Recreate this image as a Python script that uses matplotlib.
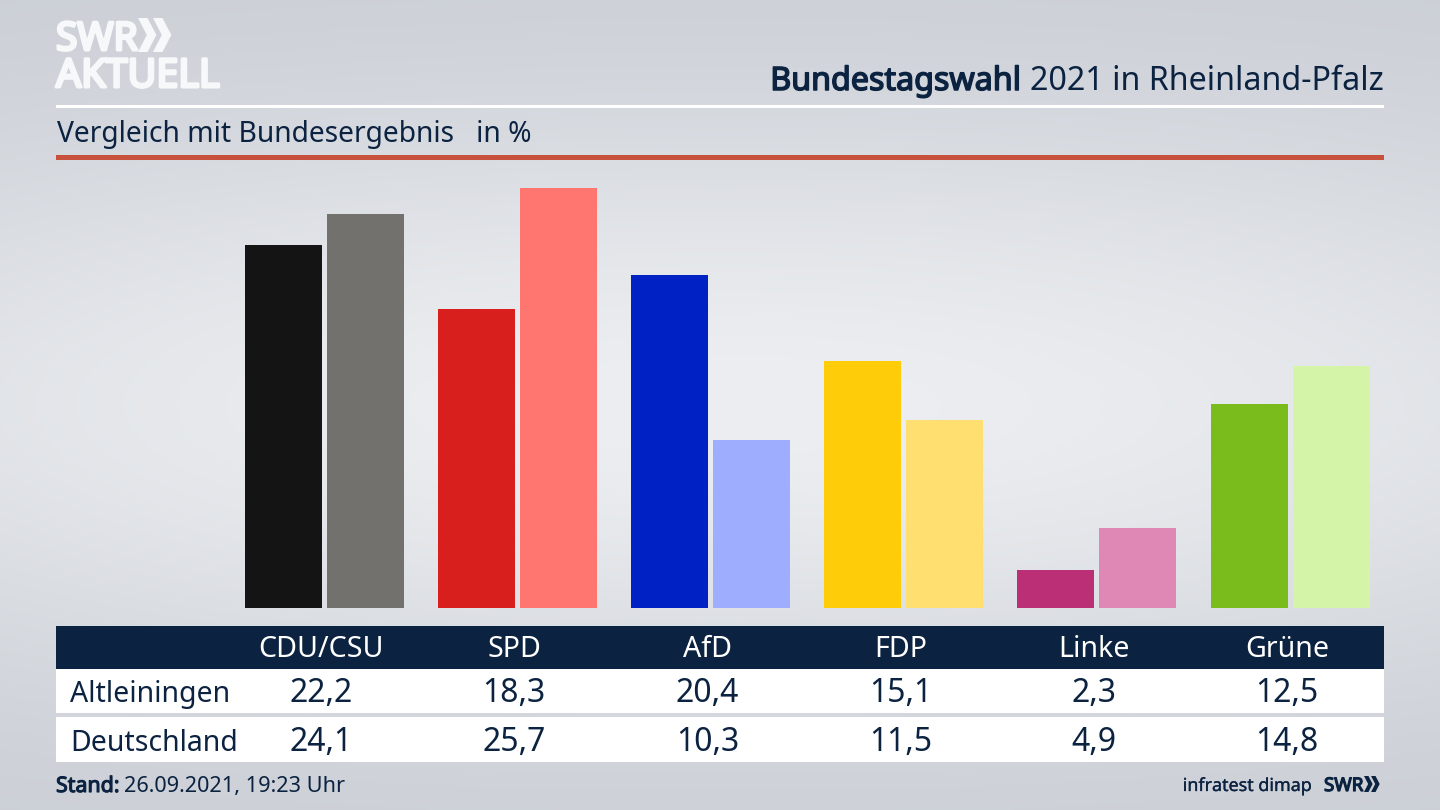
import numpy as np
import matplotlib
matplotlib.use('Agg')
import matplotlib.pyplot as plt
import matplotlib.patheffects as pe
from matplotlib.patches import Rectangle, Polygon

# Werte
parties = ['CDU/CSU', 'SPD', 'AfD', 'FDP', 'Linke', 'Grüne']
altleiningen = [22.2, 18.3, 20.4, 15.1, 2.3, 12.5]
deutschland = [24.1, 25.7, 10.3, 11.5, 4.9, 14.8]
row_names = ['Altleiningen', 'Deutschland']
colors_local = ['#141414', '#d81f1d', '#0021c4', '#ffcc0a', '#bb2f77', '#79bc1c']
colors_national = ['#72716e', '#ff7570', '#9fadff', '#ffdf70', '#df88b6', '#d4f5a8']

NAVY = '#0b2240'
LOGO = '#f7f8f9'
W, H = 1440, 810

plt.rcParams['font.family'] = ['Noto Sans', 'DejaVu Sans']

fig = plt.figure(figsize=(W / 100, H / 100), dpi=100)

# Hintergrund + alles was in Pixeln liegt
bg = fig.add_axes([0, 0, 1, 1])
bg.set_xlim(0, W)
bg.set_ylim(H, 0)
bg.axis('off')
yy, xx = np.mgrid[0:1:200j, 0:1:200j]
shade = np.exp(-((yy - 0.5) / 0.36) ** 2) * (1 - 0.3 * ((xx - 0.5) * 2) ** 2)
top = np.array([201, 205, 212]) / 255
mid = np.array([236, 238, 241]) / 255
grad = top + (mid - top) * shade[..., None]
bg.imshow(grad, extent=(0, W, H, 0), aspect='auto', interpolation='bilinear', zorder=0)


def label(x, y, txt, size, color=NAVY, ha='left', heavy=0):
    # y ist die Grundlinie, heavy = Konturbreite fuer fette Schrift
    t = bg.text(x, y, txt, color=color, fontsize=size, ha=ha, va='baseline', zorder=3)
    if heavy:
        t.set_path_effects([pe.withStroke(linewidth=heavy, foreground=color)])
    return t


def chevrons(x, y, h, color):
    w = h * 0.26
    t = h * 0.28
    for k in range(2):
        x0 = x + k * h * 0.44
        bg.add_patch(Polygon([(x0, y), (x0 + t, y), (x0 + t + w, y + h / 2),
                              (x0 + t, y + h), (x0, y + h), (x0 + w, y + h / 2)],
                             closed=True, color=color, lw=0, zorder=3))


# Logo
label(56, 50, 'SWR', 28, color=LOGO, heavy=2.2)
chevrons(138, 18, 34, LOGO)
label(56, 87, 'AKTUELL', 28.4, color=LOGO, heavy=2.2)

# Titel
t2 = label(1384, 90, '2021 in Rheinland-Pfalz', 23.2, ha='right')
fig.canvas.draw()
label(t2.get_window_extent().x0 - 9, 90, 'Bundestagswahl', 23.2, ha='right', heavy=1.1)

bg.add_patch(Rectangle((56, 104.5), 1328, 3, color='white', lw=0, zorder=2))
label(57, 142, 'Vergleich mit Bundesergebnis   in %', 20.3)
bg.add_patch(Rectangle((56, 155), 1328, 5, color='#c8513e', lw=0, zorder=2))

# Tabelle
bg.add_patch(Rectangle((56, 626), 1328, 43, color=NAVY, lw=0, zorder=2))
bg.add_patch(Rectangle((56, 669), 1328, 44, color='white', lw=0, zorder=2))
bg.add_patch(Rectangle((56, 717), 1328, 45, color='white', lw=0, zorder=2))

centers = [321 + 193.2 * i for i in range(len(parties))]
for cx, name, a, d in zip(centers, parties, altleiningen, deutschland):
    label(cx, 657, name, 20.6, color='white', ha='center')
    label(cx, 702, f'{a:.1f}'.replace('.', ','), 23, ha='center')
    label(cx, 751, f'{d:.1f}'.replace('.', ','), 23, ha='center')
label(70, 702, row_names[0], 20.5)
label(70, 751, row_names[1], 20.5)

# Fusszeile
s = label(56, 792, 'Stand:', 15.4, heavy=0.8)
fig.canvas.draw()
label(s.get_window_extent().x1 + 4, 792, '26.09.2021, 19:23 Uhr', 15.6)
label(1312, 791, 'infratest dimap', 12.9, ha='right', heavy=0.2)
label(1324, 791, 'SWR', 13.5, heavy=0.9)
chevrons(1364, 776, 16, NAVY)

# Balken
px_per_unit = 16.33
ax = fig.add_axes([227.5 / W, 1 - 608 / H, 1159.2 / W, 442 / H])
ax.patch.set_alpha(0)
ax.set_xlim(-0.5, 5.5)
ax.set_ylim(0, 442 / px_per_unit)
ax.axis('off')
x = np.arange(len(parties))
ax.bar(x - 0.2122, altleiningen, width=0.3986, color=colors_local, lw=0)
ax.bar(x + 0.2122, deutschland, width=0.3986, color=colors_national, lw=0)

fig.savefig('out.png', dpi=100)
